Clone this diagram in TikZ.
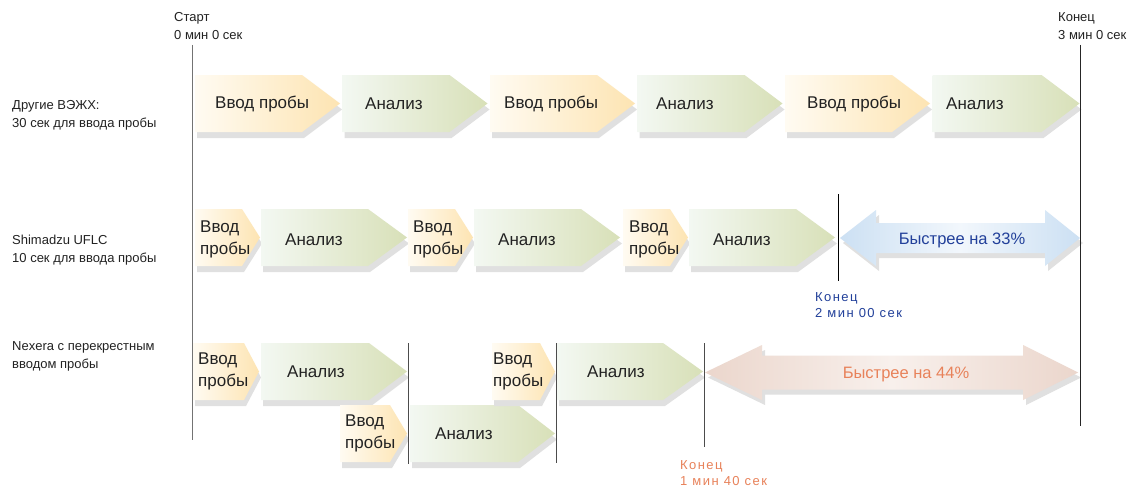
\documentclass[tikz,border=0pt]{standalone}
\usepackage{fontspec}
\setmainfont{Liberation Sans}
\newfontfamily\spacedfont[LetterSpace=11]{Liberation Sans}
\definecolor{txt}{HTML}{222222}
\definecolor{shadowc}{HTML}{E0E0E0}
\definecolor{samL}{HTML}{FFFBF2}
\definecolor{samR}{HTML}{FDE4B2}
\definecolor{anaL}{HTML}{F3F8F2}
\definecolor{anaR}{HTML}{D8E0B8}
\definecolor{blueEnd}{HTML}{CCE0F3}
\definecolor{blueMid}{HTML}{F2F7FC}
\definecolor{blueTxt}{HTML}{22409A}
\definecolor{salEnd}{HTML}{EBD6CC}
\definecolor{salMid}{HTML}{F8F0EC}
\definecolor{salTxt}{HTML}{E8825A}
\tikzset{
  samp/.style={left color=samL, right color=samR},
  ana/.style={left color=anaL, right color=anaR},
  ctext/.style={font=\fontsize{17}{22}\selectfont, text=txt, anchor=west, inner sep=0pt, align=left},
  lbl/.style={font=\fontsize{13}{18}\selectfont, text=txt, anchor=west, inner sep=0pt, align=left},
  fast/.style={font=\fontsize{16.5}{20}\selectfont, inner sep=0pt},
  endlbl/.style={font=\fontsize{13}{16}\spacedfont, anchor=west, inner sep=0pt, align=left},
  vline/.style={line width=1pt}
}
% #1 x0, #2 ytop, #3 total width, #4 tip depth, #5 height, #6 style
\newcommand\mychev[6]{%
  \fill[shadowc] ({#1+2},{#2+6}) -- ++({#3-#4},0) -- ++(#4,{#5/2}) -- ++({-#4},{#5/2}) -- ++({-(#3-#4)},0) -- cycle;
  \shade[#6] (#1,#2) -- ++({#3-#4},0) -- ++(#4,{#5/2}) -- ++({-#4},{#5/2}) -- ++({-(#3-#4)},0) -- cycle;
}
% double arrow: #1 xl tip, #2 xl base, #3 xr base, #4 xr tip, #5 ycenter, #6 head half, #7 body half, #8 style
\newcommand\mydarrow[8]{%
  \fill[shadowc] ({#1+3},{#5+5}) -- ({#2+3},{#5-#6+5}) -- ({#2+3},{#5-#7+5}) -- ({#3+3},{#5-#7+5}) -- ({#3+3},{#5-#6+5}) -- ({#4+3},{#5+5}) -- ({#3+3},{#5+#6+5}) -- ({#3+3},{#5+#7+5}) -- ({#2+3},{#5+#7+5}) -- ({#2+3},{#5+#6+5}) -- cycle;
  \shade[#8] (#1,#5) -- (#2,{#5-#6}) -- (#2,{#5-#7}) -- (#3,{#5-#7}) -- (#3,{#5-#6}) -- (#4,#5) -- (#3,{#5+#6}) -- (#3,{#5+#7}) -- (#2,{#5+#7}) -- (#2,{#5+#6}) -- cycle;
}
\begin{document}
\begin{tikzpicture}[x=1pt,y=-1pt]
\useasboundingbox (0,0) rectangle (1129,487);
\fill[white] (0,0) rectangle (1129,487);

% top labels
\node[lbl] (start) at (174,26) {Старт\\0 мин 0 сек};
\node[lbl] (end) at (1058,26) {Конец\\3 мин 0 сек};

% left labels
\node[lbl] (l1) at (12,115) {Другие ВЭЖХ:\\30 сек для ввода пробы};
\node[lbl] (l2) at (12,250) {Shimadzu UFLC\\10 сек для ввода пробы};
\node[lbl] (l3) at (12,356) {Nexera с перекрестным\\вводом пробы};

% Row 1
\mychev{195}{75}{145}{38}{57}{samp}
\mychev{342.5}{75}{145}{38}{57}{ana}
\mychev{490}{75}{145}{38}{57}{samp}
\mychev{637.5}{75}{145}{38}{57}{ana}
\mychev{785}{75}{145}{38}{57}{samp}
\mychev{932.5}{75}{147}{38}{57}{ana}
\node[ctext] (r1a) at (215,104) {Ввод пробы};
\node[ctext] (r1b) at (365,104) {Анализ};
\node[ctext] (r1c) at (504,104) {Ввод пробы};
\node[ctext] (r1d) at (656,104) {Анализ};
\node[ctext] (r1e) at (807,104) {Ввод пробы};
\node[ctext] (r1f) at (946,104) {Анализ};

% Row 2
\mychev{195}{209}{65}{18}{57}{samp}
\mychev{261}{209}{146}{39}{57}{ana}
\mychev{408}{209}{65}{18}{57}{samp}
\mychev{474}{209}{146}{39}{57}{ana}
\mychev{623}{209}{65}{18}{57}{samp}
\mychev{689}{209}{146}{39}{57}{ana}
\node[ctext] (r2a) at (200,239) {Ввод\\пробы};
\node[ctext] (r2b) at (285,240) {Анализ};
\node[ctext] (r2c) at (413,239) {Ввод\\пробы};
\node[ctext] (r2d) at (498,240) {Анализ};
\node[ctext] (r2e) at (629,239) {Ввод\\пробы};
\node[ctext] (r2f) at (713,240) {Анализ};

% Row 3
\mychev{193}{343}{66}{15}{57}{samp}
\mychev{261}{343}{146}{38}{57}{ana}
\mychev{340}{405}{67}{17}{57}{samp}
\mychev{410}{405}{145}{37}{57}{ana}
\mychev{492}{343}{63}{15}{57}{samp}
\mychev{557}{343}{146}{40}{57}{ana}
\node[ctext] (r3a) at (198,371) {Ввод\\пробы};
\node[ctext] (r3b) at (287,372) {Анализ};
\node[ctext] (r3c) at (345,433) {Ввод\\пробы};
\node[ctext] (r3d) at (435,434) {Анализ};
\node[ctext] (r3e) at (493,371) {Ввод\\пробы};
\node[ctext] (r3f) at (587,372) {Анализ};

% faster arrows
\mydarrow{840}{876}{1045}{1080}{238}{28}{15}{left color=blueEnd, right color=blueEnd, middle color=blueMid}
\node[fast, text=blueTxt] (f1) at (962,240) {Быстрее на 33\%};
\mydarrow{705}{762}{1023}{1078}{372.5}{27.5}{17}{left color=salEnd, right color=salEnd, middle color=salMid}
\node[fast, text=salTxt] (f2) at (906,374) {Быстрее на 44\%};

% end labels
\node[endlbl, text=blueTxt] (e1) at (815,305) {Конец\\2 мин 00 сек};
\node[endlbl, text=salTxt] (e2) at (680,473) {Конец\\1 мин 40 сек};

% vertical lines
\coordinate (a1) at (192,45); \coordinate (a2) at (192,440);
\coordinate (b1) at (1080,45); \coordinate (b2) at (1080,426);
\coordinate (c1) at (838,194); \coordinate (c2) at (838,281);
\coordinate (d1) at (408,343); \coordinate (d2) at (408,464);
\coordinate (g1) at (556,343); \coordinate (g2) at (556,463);
\coordinate (h1) at (704,343); \coordinate (h2) at (704,447);
\draw[vline, color=gray!90!black] (a1) -- (a2);
\draw[vline, color=black!85] (b1) -- (b2);
\draw[vline, color=black] (c1) -- (c2);
\draw[vline, color=black!70] (d1) -- (d2);
\draw[vline, color=black!70] (g1) -- (g2);
\draw[vline, color=black!70] (h1) -- (h2);
\end{tikzpicture}
\end{document}
